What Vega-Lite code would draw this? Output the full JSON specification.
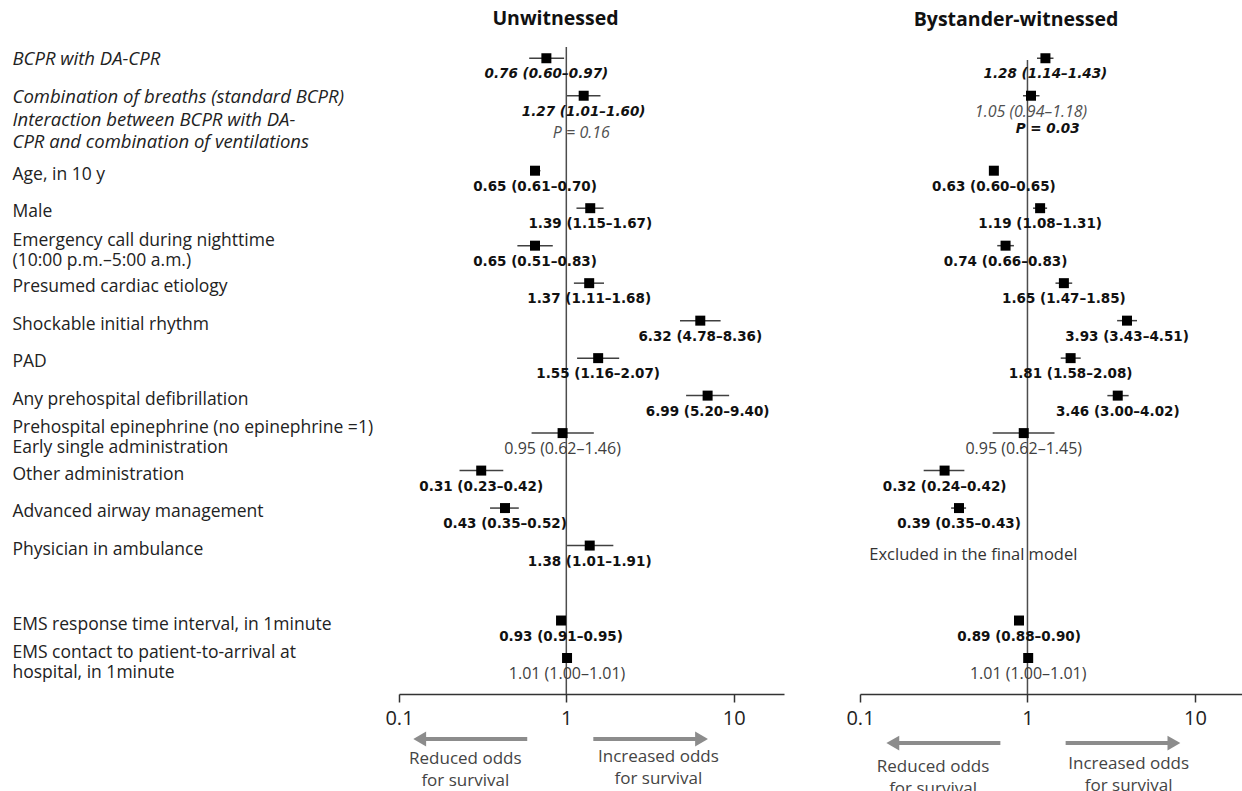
{
  "$schema": "https://vega.github.io/schema/vega-lite/v6.json",
  "padding": {"left": 12, "top": 8, "right": 0, "bottom": 0},
  "bounds": "flush",
  "spacing": 386,
  "resolve": {"scale": {"x": "independent", "y": "independent"}},
  "datasets": {
    "vars": [
      {"row": 0, "variable": "BCPR with DA-CPR", "exposure": true},
      {"row": 1, "variable": "Combination of breaths (standard BCPR)", "exposure": true},
      {"row": 2, "variable": "Interaction between BCPR with DA-\nCPR and combination of ventilations", "exposure": true},
      {"row": 3, "variable": "Age, in 10 y", "exposure": false},
      {"row": 4, "variable": "Male", "exposure": false},
      {"row": 5, "variable": "Emergency call during nighttime\n\u00a0(10:00 p.m.–5:00 a.m.)", "exposure": false},
      {"row": 6, "variable": "Presumed cardiac etiology", "exposure": false},
      {"row": 7, "variable": "Shockable initial rhythm", "exposure": false},
      {"row": 8, "variable": "PAD", "exposure": false},
      {"row": 9, "variable": "Any prehospital defibrillation", "exposure": false},
      {"row": 10, "variable": "Prehospital epinephrine (no epinephrine =1)\n\u00a0Early single administration", "exposure": false},
      {"row": 11, "variable": "\u00a0Other administration", "exposure": false},
      {"row": 12, "variable": "Advanced airway management", "exposure": false},
      {"row": 13, "variable": "Physician  in ambulance", "exposure": false},
      {"row": 15, "variable": "EMS response time interval, in 1minute", "exposure": false},
      {"row": 16, "variable": "EMS contact to patient-to-arrival at\nhospital, in 1minute", "exposure": false}
    ],
    "est": [
      {"panel": "Unwitnessed", "row": 0, "or": 0.76, "lo": 0.60, "hi": 0.97, "label": "0.76 (0.60–0.97)", "sig": true, "exposure": true},
      {"panel": "Unwitnessed", "row": 1, "or": 1.27, "lo": 1.01, "hi": 1.60, "label": "1.27 (1.01–1.60)", "sig": true, "exposure": true},
      {"panel": "Unwitnessed", "row": 3, "or": 0.65, "lo": 0.61, "hi": 0.70, "label": "0.65 (0.61–0.70)", "sig": true, "exposure": false},
      {"panel": "Unwitnessed", "row": 4, "or": 1.39, "lo": 1.15, "hi": 1.67, "label": "1.39 (1.15–1.67)", "sig": true, "exposure": false},
      {"panel": "Unwitnessed", "row": 5, "or": 0.65, "lo": 0.51, "hi": 0.83, "label": "0.65 (0.51–0.83)", "sig": true, "exposure": false},
      {"panel": "Unwitnessed", "row": 6, "or": 1.37, "lo": 1.11, "hi": 1.68, "label": "1.37 (1.11–1.68)", "sig": true, "exposure": false},
      {"panel": "Unwitnessed", "row": 7, "or": 6.32, "lo": 4.78, "hi": 8.36, "label": "6.32 (4.78–8.36)", "sig": true, "exposure": false},
      {"panel": "Unwitnessed", "row": 8, "or": 1.55, "lo": 1.16, "hi": 2.07, "label": "1.55 (1.16–2.07)", "sig": true, "exposure": false},
      {"panel": "Unwitnessed", "row": 9, "or": 6.99, "lo": 5.20, "hi": 9.40, "label": "6.99 (5.20–9.40)", "sig": true, "exposure": false},
      {"panel": "Unwitnessed", "row": 10, "or": 0.95, "lo": 0.62, "hi": 1.46, "label": "0.95 (0.62–1.46)", "sig": false, "exposure": false},
      {"panel": "Unwitnessed", "row": 11, "or": 0.31, "lo": 0.23, "hi": 0.42, "label": "0.31 (0.23–0.42)", "sig": true, "exposure": false},
      {"panel": "Unwitnessed", "row": 12, "or": 0.43, "lo": 0.35, "hi": 0.52, "label": "0.43 (0.35–0.52)", "sig": true, "exposure": false},
      {"panel": "Unwitnessed", "row": 13, "or": 1.38, "lo": 1.01, "hi": 1.91, "label": "1.38 (1.01–1.91)", "sig": true, "exposure": false},
      {"panel": "Unwitnessed", "row": 15, "or": 0.93, "lo": 0.91, "hi": 0.95, "label": "0.93 (0.91–0.95)", "sig": true, "exposure": false},
      {"panel": "Unwitnessed", "row": 16, "or": 1.01, "lo": 1.00, "hi": 1.01, "label": "1.01 (1.00–1.01)", "sig": false, "exposure": false},
      {"panel": "Bystander-witnessed", "row": 0, "or": 1.28, "lo": 1.14, "hi": 1.43, "label": "1.28 (1.14–1.43)", "sig": true, "exposure": true},
      {"panel": "Bystander-witnessed", "row": 1, "or": 1.05, "lo": 0.94, "hi": 1.18, "label": "1.05 (0.94–1.18)", "sig": false, "exposure": true},
      {"panel": "Bystander-witnessed", "row": 3, "or": 0.63, "lo": 0.60, "hi": 0.65, "label": "0.63 (0.60–0.65)", "sig": true, "exposure": false},
      {"panel": "Bystander-witnessed", "row": 4, "or": 1.19, "lo": 1.08, "hi": 1.31, "label": "1.19 (1.08–1.31)", "sig": true, "exposure": false},
      {"panel": "Bystander-witnessed", "row": 5, "or": 0.74, "lo": 0.66, "hi": 0.83, "label": "0.74 (0.66–0.83)", "sig": true, "exposure": false},
      {"panel": "Bystander-witnessed", "row": 6, "or": 1.65, "lo": 1.47, "hi": 1.85, "label": "1.65 (1.47–1.85)", "sig": true, "exposure": false},
      {"panel": "Bystander-witnessed", "row": 7, "or": 3.93, "lo": 3.43, "hi": 4.51, "label": "3.93 (3.43–4.51)", "sig": true, "exposure": false},
      {"panel": "Bystander-witnessed", "row": 8, "or": 1.81, "lo": 1.58, "hi": 2.08, "label": "1.81 (1.58–2.08)", "sig": true, "exposure": false},
      {"panel": "Bystander-witnessed", "row": 9, "or": 3.46, "lo": 3.00, "hi": 4.02, "label": "3.46 (3.00–4.02)", "sig": true, "exposure": false},
      {"panel": "Bystander-witnessed", "row": 10, "or": 0.95, "lo": 0.62, "hi": 1.45, "label": "0.95 (0.62–1.45)", "sig": false, "exposure": false},
      {"panel": "Bystander-witnessed", "row": 11, "or": 0.32, "lo": 0.24, "hi": 0.42, "label": "0.32 (0.24–0.42)", "sig": true, "exposure": false},
      {"panel": "Bystander-witnessed", "row": 12, "or": 0.39, "lo": 0.35, "hi": 0.43, "label": "0.39 (0.35–0.43)", "sig": true, "exposure": false},
      {"panel": "Bystander-witnessed", "row": 15, "or": 0.89, "lo": 0.88, "hi": 0.90, "label": "0.89 (0.88–0.90)", "sig": true, "exposure": false},
      {"panel": "Bystander-witnessed", "row": 16, "or": 1.01, "lo": 1.00, "hi": 1.01, "label": "1.01 (1.00–1.01)", "sig": false, "exposure": false}
    ],
    "notes": [
      {"panel": "Unwitnessed", "row": 2, "x": 1.23, "text": "P = 0.16", "sig": false, "exposure": true},
      {"panel": "Bystander-witnessed", "row": 1.9, "x": 1.32, "text": "P = 0.03", "sig": true, "exposure": true},
      {"panel": "Bystander-witnessed", "row": 13.25, "x": 0.475, "text": "Excluded in the final model", "sig": false, "exposure": false}
    ],
    "ref": [{"or": 1}],
    "arrows": [
      {"panel": "Unwitnessed", "row": 18.16, "from": 0.584, "head": 0.133, "dir": "left"},
      {"panel": "Unwitnessed", "row": 18.16, "from": 1.45, "head": 6.43, "dir": "right"},
      {"panel": "Bystander-witnessed", "row": 18.27, "from": 0.689, "head": 0.157, "dir": "left"},
      {"panel": "Bystander-witnessed", "row": 18.27, "from": 1.69, "head": 7.49, "dir": "right"}
    ],
    "arrowtext": [
      {"panel": "Unwitnessed", "row": 18.69, "x": 0.249, "text": "Reduced odds\nfor survival"},
      {"panel": "Unwitnessed", "row": 18.64, "x": 3.55, "text": "Increased odds\nfor survival"},
      {"panel": "Bystander-witnessed", "row": 18.91, "x": 0.273, "text": "Reduced odds\nfor survival"},
      {"panel": "Bystander-witnessed", "row": 18.83, "x": 4.02, "text": "Increased odds\nfor survival"}
    ]
  },
  "hconcat": [
    {
      "width": 1,
      "height": 647,
      "data": {"name": "vars"},
      "layer": [
        {
          "transform": [{"filter": "datum.exposure && indexof(datum.variable, '\\n') < 0"}],
          "mark": {"type": "text", "align": "left", "baseline": "middle", "font": "Open Sans", "fontSize": 18.5, "fontStyle": "italic", "lineBreak": "\n", "lineHeight": 22, "color": "#222222", "dy": 1},
          "encoding": {
            "y": {"field": "row", "type": "quantitative", "scale": {"domain": [-0.3, 16.96], "reverse": true, "nice": false, "zero": false}, "axis": null},
            "text": {"field": "variable"}
          }
        },
        {
          "transform": [{"filter": "datum.exposure && indexof(datum.variable, '\\n') >= 0"}],
          "mark": {"type": "text", "align": "left", "baseline": "middle", "font": "Open Sans", "fontSize": 18.5, "fontStyle": "italic", "lineBreak": "\n", "lineHeight": 22, "color": "#222222", "dy": -13},
          "encoding": {
            "y": {"field": "row", "type": "quantitative"},
            "text": {"field": "variable"}
          }
        },
        {
          "transform": [{"filter": "!datum.exposure && indexof(datum.variable, '\\n') < 0"}],
          "mark": {"type": "text", "align": "left", "baseline": "middle", "font": "Open Sans", "fontSize": 17.5, "lineBreak": "\n", "lineHeight": 22, "color": "#222222", "dy": 4},
          "encoding": {
            "y": {"field": "row", "type": "quantitative"},
            "text": {"field": "variable"}
          }
        },
        {
          "transform": [{"filter": "!datum.exposure && indexof(datum.variable, '\\n') >= 0"}],
          "mark": {"type": "text", "align": "left", "baseline": "middle", "font": "Open Sans", "fontSize": 17.5, "lineBreak": "\n", "lineHeight": 20, "color": "#222222", "dy": -5},
          "encoding": {
            "y": {"field": "row", "type": "quantitative"},
            "text": {"field": "variable"}
          }
        }
      ]
    },
    {
      "bounds": "flush",
      "spacing": 76,
      "resolve": {"scale": {"x": "independent", "y": "independent"}},
      "hconcat": [
        {
          "width": 385,
          "height": 647,
          "title": {"text": "Unwitnessed", "font": "Open Sans", "fontSize": 19.5, "fontWeight": "bold", "color": "#111111", "offset": 17, "dx": -36},
          "layer": [
            {
              "data": {"name": "est"},
              "transform": [{"filter": "datum.panel === 'Unwitnessed'"}],
              "mark": {"type": "rule", "color": "#404040", "strokeWidth": 1.5},
              "encoding": {
                "x": {"field": "lo", "type": "quantitative", "title": null, "scale": {"type": "log", "domain": [0.1, 20], "nice": false}, "axis": {"values": [0.1, 1, 10], "format": "~g", "title": null}},
                "x2": {"field": "hi"},
                "y": {"field": "row", "type": "quantitative", "scale": {"domain": [-0.3, 16.96], "reverse": true, "nice": false, "zero": false}, "axis": null}
              }
            },
            {
              "data": {"name": "ref"},
              "mark": {"type": "rule", "color": "#4d4d4d", "strokeWidth": 1.5},
              "encoding": {
                "x": {"field": "or", "type": "quantitative", "title": null},
                "y": {"datum": -0.3, "type": "quantitative"},
                "y2": {"datum": 16.96}
              }
            },
            {
              "data": {"name": "est"},
              "transform": [{"filter": "datum.panel === 'Unwitnessed'"}],
              "mark": {"type": "point", "shape": "square", "filled": true, "size": 100, "color": "#000000", "opacity": 1},
              "encoding": {
                "x": {"field": "or", "type": "quantitative", "title": null},
                "y": {"field": "row", "type": "quantitative"}
              }
            },
            {
              "data": {"name": "est"},
              "transform": [{"filter": "datum.panel === 'Unwitnessed' && datum.sig && !datum.exposure"}],
              "mark": {"type": "text", "align": "center", "baseline": "middle", "font": "DejaVu Sans", "fontSize": 13.5, "fontWeight": "bold", "color": "#111111", "dy": 16},
              "encoding": {
                "x": {"field": "or", "type": "quantitative", "title": null},
                "y": {"field": "row", "type": "quantitative"},
                "text": {"field": "label"}
              }
            },
            {
              "data": {"name": "est"},
              "transform": [{"filter": "datum.panel === 'Unwitnessed' && !datum.sig && !datum.exposure"}],
              "mark": {"type": "text", "align": "center", "baseline": "middle", "font": "Open Sans", "fontSize": 16, "color": "#404040", "dy": 16},
              "encoding": {
                "x": {"field": "or", "type": "quantitative", "title": null},
                "y": {"field": "row", "type": "quantitative"},
                "text": {"field": "label"}
              }
            },
            {
              "data": {"name": "est"},
              "transform": [{"filter": "datum.panel === 'Unwitnessed' && datum.sig && datum.exposure"}],
              "mark": {"type": "text", "align": "center", "baseline": "middle", "font": "DejaVu Sans", "fontSize": 13.5, "fontWeight": "bold", "fontStyle": "italic", "color": "#111111", "dy": 16},
              "encoding": {
                "x": {"field": "or", "type": "quantitative", "title": null},
                "y": {"field": "row", "type": "quantitative"},
                "text": {"field": "label"}
              }
            },
            {
              "data": {"name": "notes"},
              "transform": [{"filter": "datum.panel === 'Unwitnessed' && !datum.sig && datum.exposure"}],
              "mark": {"type": "text", "align": "center", "baseline": "middle", "font": "Open Sans", "fontSize": 16, "fontStyle": "italic", "color": "#505050"},
              "encoding": {
                "x": {"field": "x", "type": "quantitative", "title": null},
                "y": {"field": "row", "type": "quantitative"},
                "text": {"field": "text"}
              }
            },
            {
              "data": {"name": "arrows"},
              "transform": [{"filter": "datum.panel === 'Unwitnessed'"}],
              "mark": {"type": "rule", "color": "#8c8c8c", "strokeWidth": 4},
              "encoding": {
                "x": {"field": "from", "type": "quantitative", "title": null},
                "x2": {"field": "head"},
                "y": {"field": "row", "type": "quantitative"}
              }
            },
            {
              "data": {"name": "arrows"},
              "transform": [{"filter": "datum.panel === 'Unwitnessed'"}],
              "mark": {"type": "point", "filled": true, "size": 220, "color": "#8c8c8c", "opacity": 1},
              "encoding": {
                "x": {"field": "head", "type": "quantitative", "title": null},
                "y": {"field": "row", "type": "quantitative"},
                "shape": {"field": "dir", "type": "nominal", "scale": {"domain": ["left", "right"], "range": ["triangle-left", "triangle-right"]}, "legend": null}
              }
            },
            {
              "data": {"name": "arrowtext"},
              "transform": [{"filter": "datum.panel === 'Unwitnessed'"}],
              "mark": {"type": "text", "align": "center", "baseline": "middle", "font": "Open Sans", "fontSize": 17, "lineBreak": "\n", "lineHeight": 22, "color": "#444444"},
              "encoding": {
                "x": {"field": "x", "type": "quantitative", "title": null},
                "y": {"field": "row", "type": "quantitative"},
                "text": {"field": "text"}
              }
            }
          ]
        },
        {
          "width": 382,
          "height": 647,
          "title": {"text": "Bystander-witnessed", "font": "Open Sans", "fontSize": 19.5, "fontWeight": "bold", "color": "#111111", "offset": 17, "dx": -35},
          "layer": [
            {
              "data": {"name": "est"},
              "transform": [{"filter": "datum.panel === 'Bystander-witnessed'"}],
              "mark": {"type": "rule", "color": "#404040", "strokeWidth": 1.5},
              "encoding": {
                "x": {"field": "lo", "type": "quantitative", "title": null, "scale": {"type": "log", "domain": [0.1, 19.1], "nice": false}, "axis": {"values": [0.1, 1, 10], "format": "~g", "title": null}},
                "x2": {"field": "hi"},
                "y": {"field": "row", "type": "quantitative", "scale": {"domain": [-0.3, 16.96], "reverse": true, "nice": false, "zero": false}, "axis": null}
              }
            },
            {
              "data": {"name": "ref"},
              "mark": {"type": "rule", "color": "#4d4d4d", "strokeWidth": 1.5},
              "encoding": {
                "x": {"field": "or", "type": "quantitative", "title": null},
                "y": {"datum": 0.05, "type": "quantitative"},
                "y2": {"datum": 16.96}
              }
            },
            {
              "data": {"name": "est"},
              "transform": [{"filter": "datum.panel === 'Bystander-witnessed'"}],
              "mark": {"type": "point", "shape": "square", "filled": true, "size": 100, "color": "#000000", "opacity": 1},
              "encoding": {
                "x": {"field": "or", "type": "quantitative", "title": null},
                "y": {"field": "row", "type": "quantitative"}
              }
            },
            {
              "data": {"name": "est"},
              "transform": [{"filter": "datum.panel === 'Bystander-witnessed' && datum.sig && !datum.exposure"}],
              "mark": {"type": "text", "align": "center", "baseline": "middle", "font": "DejaVu Sans", "fontSize": 13.5, "fontWeight": "bold", "color": "#111111", "dy": 16},
              "encoding": {
                "x": {"field": "or", "type": "quantitative", "title": null},
                "y": {"field": "row", "type": "quantitative"},
                "text": {"field": "label"}
              }
            },
            {
              "data": {"name": "est"},
              "transform": [{"filter": "datum.panel === 'Bystander-witnessed' && !datum.sig && !datum.exposure"}],
              "mark": {"type": "text", "align": "center", "baseline": "middle", "font": "Open Sans", "fontSize": 16, "color": "#404040", "dy": 16},
              "encoding": {
                "x": {"field": "or", "type": "quantitative", "title": null},
                "y": {"field": "row", "type": "quantitative"},
                "text": {"field": "label"}
              }
            },
            {
              "data": {"name": "est"},
              "transform": [{"filter": "datum.panel === 'Bystander-witnessed' && datum.sig && datum.exposure"}],
              "mark": {"type": "text", "align": "center", "baseline": "middle", "font": "DejaVu Sans", "fontSize": 13.5, "fontWeight": "bold", "fontStyle": "italic", "color": "#111111", "dy": 16},
              "encoding": {
                "x": {"field": "or", "type": "quantitative", "title": null},
                "y": {"field": "row", "type": "quantitative"},
                "text": {"field": "label"}
              }
            },
            {
              "data": {"name": "est"},
              "transform": [{"filter": "datum.panel === 'Bystander-witnessed' && !datum.sig && datum.exposure"}],
              "mark": {"type": "text", "align": "center", "baseline": "middle", "font": "Open Sans", "fontSize": 16, "fontStyle": "italic", "color": "#505050", "dy": 16},
              "encoding": {
                "x": {"field": "or", "type": "quantitative", "title": null},
                "y": {"field": "row", "type": "quantitative"},
                "text": {"field": "label"}
              }
            },
            {
              "data": {"name": "notes"},
              "transform": [{"filter": "datum.panel === 'Bystander-witnessed' && datum.sig && datum.exposure"}],
              "mark": {"type": "text", "align": "center", "baseline": "middle", "font": "DejaVu Sans", "fontSize": 13.5, "fontWeight": "bold", "fontStyle": "italic", "color": "#111111"},
              "encoding": {
                "x": {"field": "x", "type": "quantitative", "title": null},
                "y": {"field": "row", "type": "quantitative"},
                "text": {"field": "text"}
              }
            },
            {
              "data": {"name": "notes"},
              "transform": [{"filter": "datum.panel === 'Bystander-witnessed' && !datum.exposure"}],
              "mark": {"type": "text", "align": "center", "baseline": "middle", "font": "Open Sans", "fontSize": 16.5, "color": "#333333"},
              "encoding": {
                "x": {"field": "x", "type": "quantitative", "title": null},
                "y": {"field": "row", "type": "quantitative"},
                "text": {"field": "text"}
              }
            },
            {
              "data": {"name": "arrows"},
              "transform": [{"filter": "datum.panel === 'Bystander-witnessed'"}],
              "mark": {"type": "rule", "color": "#8c8c8c", "strokeWidth": 4},
              "encoding": {
                "x": {"field": "from", "type": "quantitative", "title": null},
                "x2": {"field": "head"},
                "y": {"field": "row", "type": "quantitative"}
              }
            },
            {
              "data": {"name": "arrows"},
              "transform": [{"filter": "datum.panel === 'Bystander-witnessed'"}],
              "mark": {"type": "point", "filled": true, "size": 220, "color": "#8c8c8c", "opacity": 1},
              "encoding": {
                "x": {"field": "head", "type": "quantitative", "title": null},
                "y": {"field": "row", "type": "quantitative"},
                "shape": {"field": "dir", "type": "nominal", "scale": {"domain": ["left", "right"], "range": ["triangle-left", "triangle-right"]}, "legend": null}
              }
            },
            {
              "data": {"name": "arrowtext"},
              "transform": [{"filter": "datum.panel === 'Bystander-witnessed'"}],
              "mark": {"type": "text", "align": "center", "baseline": "middle", "font": "Open Sans", "fontSize": 17, "lineBreak": "\n", "lineHeight": 22, "color": "#444444"},
              "encoding": {
                "x": {"field": "x", "type": "quantitative", "title": null},
                "y": {"field": "row", "type": "quantitative"},
                "text": {"field": "text"}
              }
            }
          ]
        }
      ]
    }
  ],
  "config": {
    "view": {"stroke": null},
    "font": "Open Sans",
    "axisX": {"domainColor": "#333333", "domainWidth": 1.5, "tickColor": "#333333", "tickWidth": 1.5, "tickSize": 8, "labelFontSize": 20, "labelColor": "#222222", "labelFont": "Open Sans", "labelPadding": 6, "grid": false, "labelFlush": false, "labelOverlap": false}
  }
}
